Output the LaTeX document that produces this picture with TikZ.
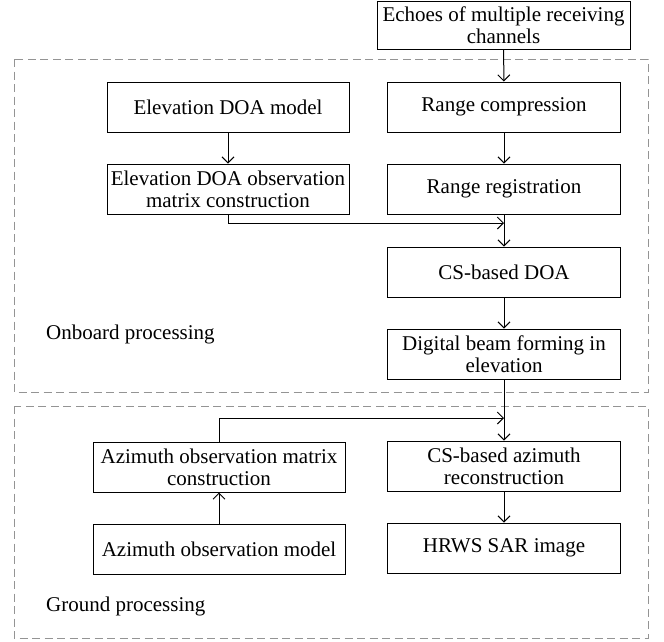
\documentclass[tikz,border=0pt]{standalone}
\usepackage{fontspec}
\setmainfont{Liberation Serif}
\usetikzlibrary{arrows.meta}

\begin{document}
\begin{tikzpicture}[x=1pt,y=-1pt,
    box/.style={draw,line width=1pt,align=center,inner sep=0pt,
                minimum height=50pt,font=\fontsize{21}{22}\selectfont},
    wbox/.style={box,minimum width=233pt},
    frame/.style={draw=black!42,line width=1pt,dash pattern=on 8pt off 4.5pt},
    arr/.style={line width=1pt,-{Straight Barb[length=6pt,width=12pt]}},
    lbl/.style={anchor=west,inner sep=0pt,font=\fontsize{21}{22}\selectfont}]
    \useasboundingbox (0,0) rectangle (664,641);

    % the two processing areas
    \draw[frame] (14,59) rectangle (648,392);
    \draw[frame] (14,406) rectangle (648,638);
    \node[lbl] (onboard) at (46,334) {Onboard processing};
    \node[lbl] (ground) at (46,606) {Ground processing};

    % right column
    \node[box,minimum width=253pt,minimum height=48pt] (echoes) at (503.5,25) {Echoes of multiple receiving\\channels};
    \node[wbox] (rcomp) at (504,107) {Range compression};
    \node[wbox] (rreg) at (504,189) {Range registration};
    \node[wbox] (csdoa) at (504,272) {CS-based DOA};
    \node[wbox] (dbf) at (504,354) {Digital beam forming in\\elevation};
    \node[wbox] (csaz) at (504,466) {CS-based azimuth\\reconstruction};
    \node[wbox] (hrws) at (504,548) {HRWS SAR image};

    % left column
    \node[box,minimum width=242pt] (elmodel) at (228,107) {Elevation DOA model};
    \node[box,minimum width=242pt] (elmat) at (228,189) {Elevation DOA observation\\matrix construction};
    \node[box,minimum width=252pt] (azmat) at (219,467) {Azimuth observation matrix\\construction};
    \node[box,minimum width=252pt] (azmodel) at (219,549) {Azimuth observation model};

    \coordinate (join1) at (504,223);
    \coordinate (join2) at (504,418);

    \draw[arr] (echoes) -- (rcomp);
    \draw[arr] (rcomp) -- (rreg);
    \draw[arr] (rreg) -- (csdoa);
    \draw[arr] (csdoa) -- (dbf);
    \draw[arr] (dbf) -- (csaz);
    \draw[arr] (csaz) -- (hrws);
    \draw[arr] (elmodel) -- (elmat);
    \draw[arr] (elmat.south) |- (join1);
    \draw[arr] (azmodel) -- (azmat);
    \draw[arr] (azmat.north) |- (join2);
\end{tikzpicture}
\end{document}
